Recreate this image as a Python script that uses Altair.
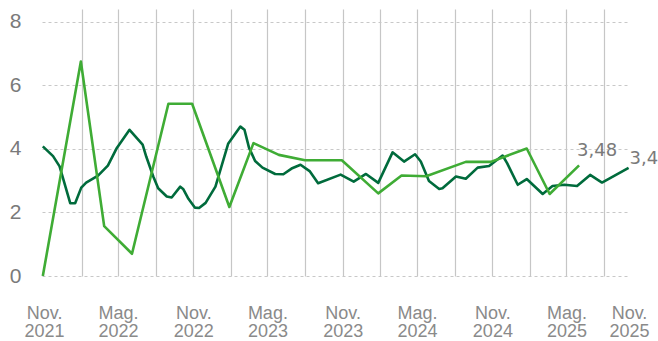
import json
import altair as alt
import pandas as pd

# ---- data ----
dark_dates = [
    "2021-10-29", "2021-11-23", "2021-12-09", "2022-01-04", "2022-01-16", "2022-01-31",
    "2022-02-12", "2022-03-13", "2022-04-06", "2022-04-28", "2022-05-29", "2022-06-30",
    "2022-07-09", "2022-07-26", "2022-08-07", "2022-08-28", "2022-09-09", "2022-09-30",
    "2022-10-07", "2022-10-20", "2022-11-05", "2022-11-15", "2022-12-01", "2022-12-25",
    "2023-01-25", "2023-02-24", "2023-03-06", "2023-03-17", "2023-04-01", "2023-04-19",
    "2023-05-20", "2023-06-09", "2023-06-29", "2023-07-21", "2023-08-13", "2023-09-02",
    "2023-10-27", "2023-11-28", "2023-12-28", "2024-01-27", "2024-03-02", "2024-03-30",
    "2024-04-26", "2024-05-10", "2024-05-30", "2024-06-24", "2024-07-02", "2024-08-04",
    "2024-08-28", "2024-09-26", "2024-10-24", "2024-11-26", "2024-12-07", "2025-01-02",
    "2025-01-24", "2025-03-04", "2025-03-28", "2025-04-26", "2025-05-27", "2025-06-28",
    "2025-07-27", "2025-09-30",
]
dark_values = [
    4.08, 3.77, 3.45, 2.29, 2.29, 2.78,
    2.94, 3.16, 3.47, 4.03, 4.60, 4.13,
    3.75, 3.13, 2.76, 2.50, 2.47, 2.81,
    2.74, 2.43, 2.15, 2.14, 2.30, 2.81,
    4.16, 4.70, 4.60, 4.04, 3.62, 3.41,
    3.21, 3.20, 3.38, 3.50, 3.29, 2.92,
    3.19, 2.97, 3.21, 2.93, 3.89, 3.60,
    3.83, 3.60, 2.99, 2.74, 2.76, 3.13,
    3.06, 3.41, 3.46, 3.79, 3.55, 2.87,
    3.05, 2.58, 2.83, 2.87, 2.83, 3.18,
    2.94, 3.40,
]

light_dates = [
    "2021-10-29", "2022-01-30", "2022-03-28", "2022-06-04", "2022-09-01", "2022-10-29",
    "2023-01-28", "2023-03-28", "2023-05-29", "2023-08-01", "2023-10-30", "2024-01-27",
    "2024-03-24", "2024-05-23", "2024-08-28", "2024-10-28", "2025-01-24", "2025-03-21",
    "2025-06-01",
]
light_values = [
    0.00, 6.75, 1.57, 0.70, 5.42, 5.42,
    2.17, 4.18, 3.81, 3.64, 3.64, 2.60,
    3.16, 3.14, 3.59, 3.59, 4.01, 2.58,
    3.48,
]

y_ticks = [0, 2, 4, 6, 8]
grid_dates = [
    "2022-02-01", "2022-05-01", "2022-08-01", "2022-11-01", "2023-02-01", "2023-05-01",
    "2023-08-01", "2023-11-01", "2024-02-01", "2024-05-01", "2024-08-01", "2024-11-01",
    "2025-02-01", "2025-05-01", "2025-08-01",
]
label_dates = [
    "2021-11-01", "2022-05-01", "2022-11-01", "2023-05-01", "2023-11-01",
    "2024-05-01", "2024-11-01", "2025-05-01", "2025-10-01",
]
label_texts = [
    "Nov. 2021", "Mag. 2022", "Nov. 2022", "Mag. 2023", "Nov. 2023",
    "Mag. 2024", "Nov. 2024", "Mag. 2025", "Nov. 2025",
]
x_domain = ["2021-10-27", "2025-10-01"]

DARK = "#006b3c"
LIGHT = "#3fac35"
FONT = "Liberation Sans"
END_FONT = "DejaVu Sans"


def ms(d):
    return int(pd.Timestamp(d, tz="UTC").value // 10**6)


grid_ms = [ms(d) for d in grid_dates]
label_ms = [ms(d) for d in label_dates]
tick_ms = sorted(set(grid_ms) | set(label_ms))
label_lines = [t.split(" ") for t in label_texts]

label_expr = (
    f"indexof({json.dumps(label_ms)}, time(datum.value)) >= 0 ? "
    f"{json.dumps(label_lines)}[indexof({json.dumps(label_ms)}, time(datum.value))] : ''"
)
grid_test = f"indexof({json.dumps(grid_ms)}, time(datum.value)) < 0"

dark_df = pd.DataFrame({"date": dark_dates, "v": dark_values})
light_df = pd.DataFrame({"date": light_dates, "v": light_values})
dark_last = dark_df.tail(1)
light_last = light_df.tail(1)

x_enc = alt.X(
    "date:T",
    scale=alt.Scale(type="utc", domain=[ms(x_domain[0]), ms(x_domain[1])]),
    axis=alt.Axis(
        title=None,
        values=tick_ms,
        tickCount=200,
        labelExpr=label_expr,
        grid=True,
        gridColor="#c6c6c6",
        gridWidth=1.2,
        gridOpacity={"condition": {"test": grid_test, "value": 0}, "value": 1},
        domain=False,
        ticks=False,
        labelAngle=0,
        labelFont=FONT,
        labelFontSize=18,
        labelLineHeight=18.5,
        labelColor="#8a8a8a",
        labelPadding=28,
        labelOverlap=False,
        labelFlush=False,
        labelBound=False,
    ),
)
y_enc = alt.Y(
    "v:Q",
    scale=alt.Scale(domain=[0, 8.4], nice=False, zero=False),
    axis=alt.Axis(
        title=None,
        values=y_ticks,
        grid=True,
        gridColor="#c8c8c8",
        gridDash=[3, 3],
        gridWidth=1,
        domain=False,
        ticks=False,
        labelFont=FONT,
        labelFontSize=21,
        labelColor="#7a7a7a",
        labelPadding=21,
    ),
)

dark_line = alt.Chart(dark_df).mark_line(color=DARK, strokeWidth=2.6, strokeJoin="round").encode(x=x_enc, y=y_enc)
light_line = alt.Chart(light_df).mark_line(color=LIGHT, strokeWidth=2.6, strokeJoin="round").encode(x=x_enc, y=y_enc)

label_calc = "replace(format(datum.v, '.2f'), '.', ',')"
light_text = (
    alt.Chart(light_last)
    .transform_calculate(lbl=label_calc)
    .mark_text(align="left", baseline="alphabetic", dx=-2, dy=-9, fontSize=18, font=END_FONT, color="#7a7a7a")
    .encode(x=alt.X("date:T"), y=alt.Y("v:Q"), text="lbl:N")
)
dark_text = (
    alt.Chart(dark_last)
    .transform_calculate(lbl=label_calc)
    .mark_text(align="left", baseline="alphabetic", dx=1, dy=-4, fontSize=18, font=END_FONT, color="#7a7a7a")
    .encode(x=alt.X("date:T"), y=alt.Y("v:Q"), text="lbl:N")
)

chart = (
    alt.layer(dark_line, light_line, light_text, dark_text)
    .properties(
        width=587,
        height=267,
        padding={"left": 42, "top": 9, "right": 29, "bottom": 65},
        autosize=alt.AutoSizeParams(type="none"),
        background="white",
    )
    .configure_view(stroke=None)
)

chart.save("out.html", embed_options={"renderer": "svg", "actions": False})
